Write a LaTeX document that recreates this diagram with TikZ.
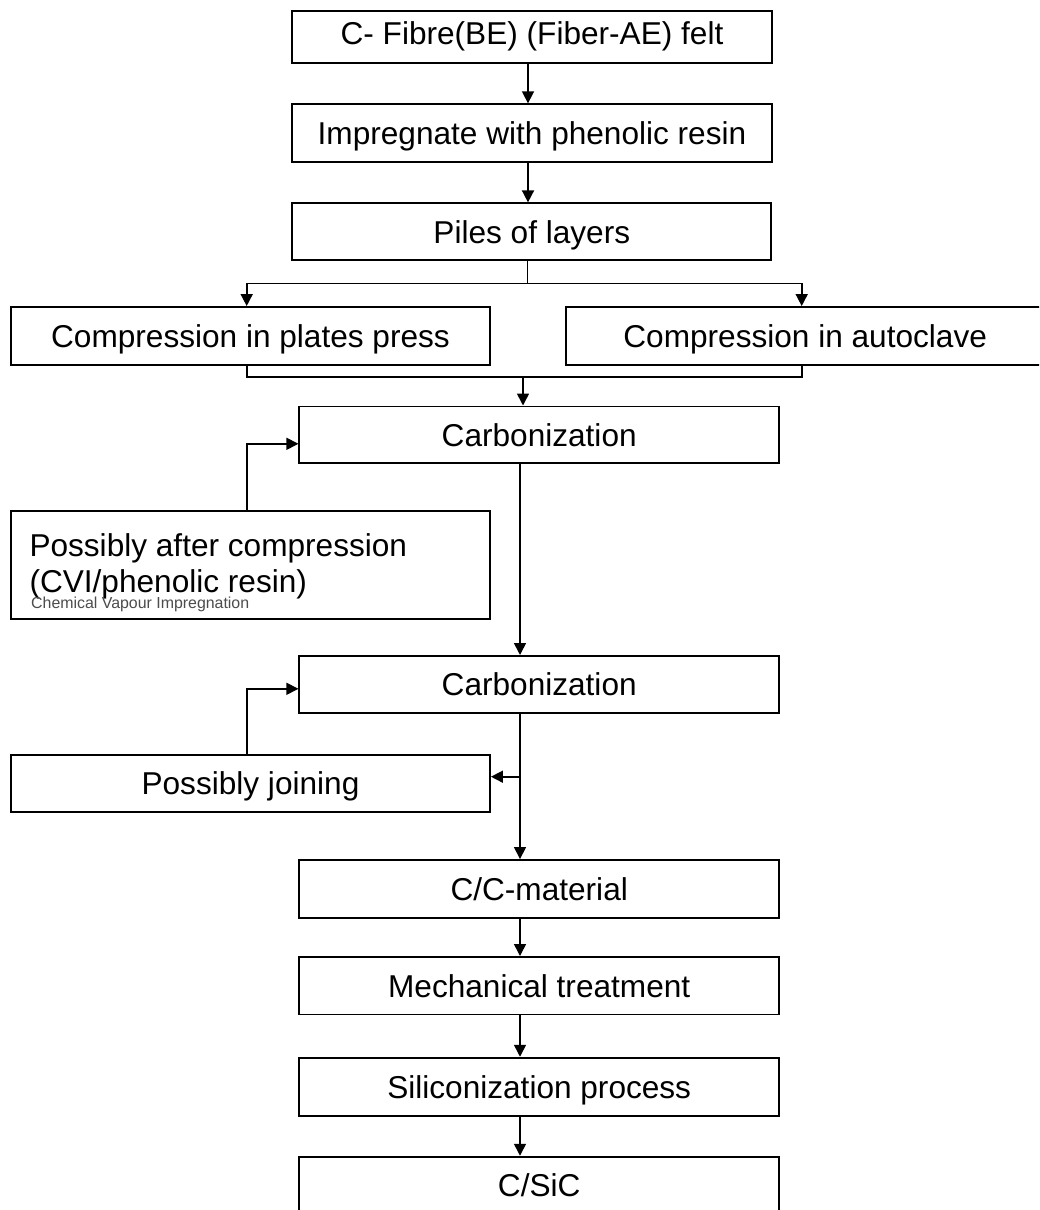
\documentclass[tikz,border=0pt]{standalone}
\usepackage{fontspec}
\setmainfont{Liberation Sans}
\usetikzlibrary{arrows.meta}
\begin{document}
\begin{tikzpicture}[x=1pt,y=-1pt,
  box/.style={draw, line width=1.9pt, minimum width=479pt, inner sep=0pt,
    font=\fontsize{31.6}{38}\selectfont, text height=22.6pt, text depth=0pt, anchor=center},
  txt/.style={inner sep=0pt, font=\fontsize{31.6}{38}\selectfont},
  smalltxt/.style={inner sep=0pt, font=\fontsize{15.9}{19}\selectfont, text=black!70},
  conn/.style={line width=1.6pt},
  arr/.style={conn, -{Triangle[length=12pt,width=12pt]}}
]
\useasboundingbox (0,0) rectangle (1039,1210);
\clip (0,0) rectangle (1039,1210);
\fill[white] (0,0) rectangle (1039,1210);

% boxes
\node[box, minimum width=480pt, minimum height=52pt, text depth=8pt] (b1) at (532,36.7) {C- Fibre(BE) (Fiber-AE) felt};
\node[box, minimum width=480pt, minimum height=57.4pt] (b2) at (532,133) {Impregnate with phenolic resin};
\node[box, minimum height=56.7pt] (b3) at (531.8,231.7) {Piles of layers};
\node[box, minimum height=58pt] (cl) at (250.5,336) {Compression in plates press};
\node[box, minimum height=58pt] (cr) at (805.2,336) {Compression in autoclave};
\node[box, minimum width=479.7pt, minimum height=56.5pt] (c1) at (539.2,434.7) {Carbonization};
\node[draw, line width=1.9pt, minimum width=479pt, minimum height=108.3pt, inner sep=0pt] (pac) at (250.5,565.2) {};
\node[txt, anchor=base west] (pac1) at (29.3,556.7) {Possibly after compression};
\node[txt, anchor=base west] (pac2) at (29.3,592.5) {(CVI/phenolic resin)};
\node[smalltxt, anchor=base west] (pac3) at (31,608.5) {Chemical Vapour Impregnation};
\node[box, minimum width=479.7pt, minimum height=56.7pt] (c2) at (539.2,684.3) {Carbonization};
\node[box, minimum height=56.7pt] (jn) at (250.5,783.3) {Possibly joining};
\node[box, minimum width=479.7pt, minimum height=58pt] (cc) at (539.2,889) {C/C-material};
\node[box, minimum width=479.7pt, minimum height=57.5pt] (mt) at (539.2,985.7) {Mechanical treatment};
\node[box, minimum width=479.7pt, minimum height=58pt] (si) at (539.2,1086.7) {Siliconization process};
\node[box, minimum width=479.7pt, minimum height=57.8pt] (cs) at (539.2,1185.6) {C/SiC};

% helper coordinates
\coordinate (ax) at (528,0);
\coordinate (lx) at (246.7,0);
\coordinate (rx) at (801.7,0);
\coordinate (split) at (527.5,283.3);
\coordinate (merge) at (523,376.7);
\coordinate (mx) at (520,0);
\coordinate (y1) at (0,443.8);
\coordinate (y2) at (0,688.8);
\coordinate (y3) at (0,776.7);

% connectors
\draw[arr] (b1.south -| ax) -- (b2.north -| ax);
\draw[arr] (b2.south -| ax) -- (b3.north -| ax);
\draw[conn] (b3.south -| split) -- (split);
\draw[arr] (split) -| (cl.north -| lx);
\draw[arr] (split) -| (cr.north -| rx);
\draw[conn] (cl.south -| lx) -- (lx |- merge) -- (rx |- merge) -- (cr.south -| rx);
\draw[arr] (merge) -- (c1.north -| merge);
\draw[arr] (c1.south -| mx) -- (c2.north -| mx);
\draw[arr] (pac.north -| lx) |- (c1.west |- y1);
\draw[arr] (jn.north -| lx) |- (c2.west |- y2);
\draw[arr] (c2.south -| mx) -- (cc.north -| mx);
\draw[arr] (mx |- y3) -- (jn.east |- y3);
\draw[arr] (cc.south -| mx) -- (mt.north -| mx);
\draw[arr] (mt.south -| mx) -- (si.north -| mx);
\draw[arr] (si.south -| mx) -- (cs.north -| mx);
\end{tikzpicture}
\end{document}
